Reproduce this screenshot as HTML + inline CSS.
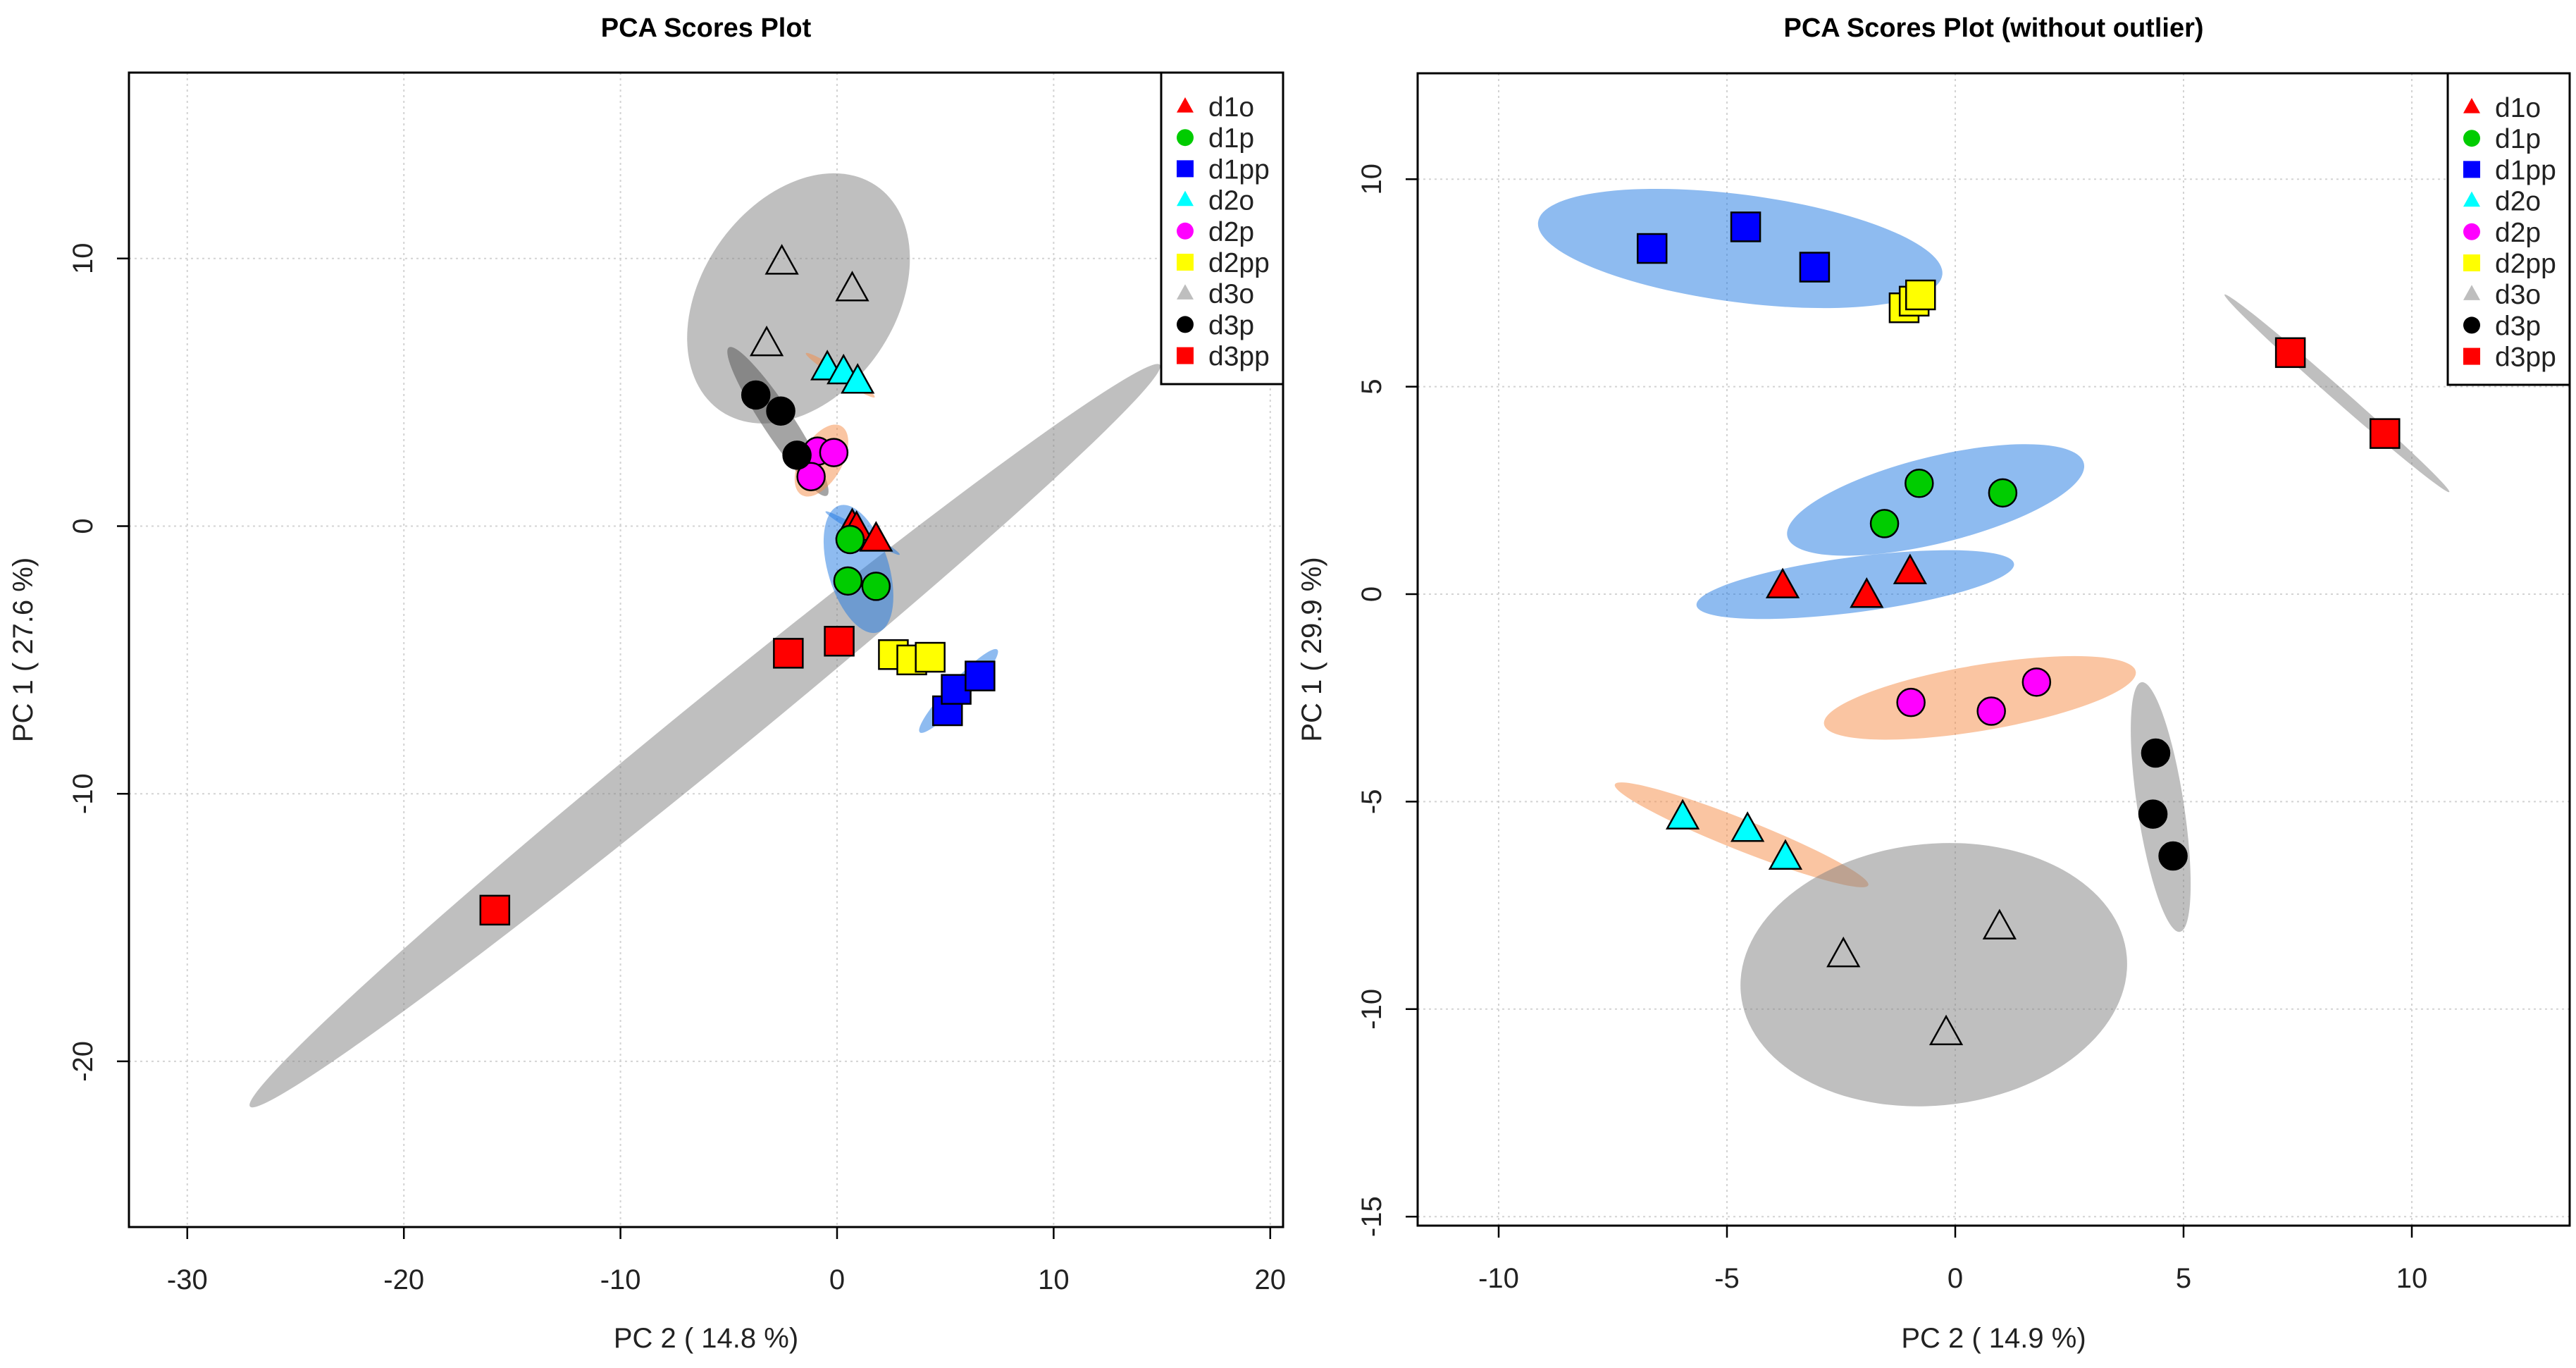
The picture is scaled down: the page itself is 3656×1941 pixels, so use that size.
<!DOCTYPE html>
<html><head><meta charset="utf-8"><style>
html,body{margin:0;padding:0;background:#fff;}
svg{display:block;font-family:"Liberation Sans",sans-serif;}
</style></head><body>
<svg id="chart" width="3656" height="1941" viewBox="0 0 3656 1941" xmlns="http://www.w3.org/2000/svg"></svg>
<script>
const legendGroups = ['d1o','d1p','d1pp','d2o','d2p','d2pp','d3o','d3p','d3pp'];
// left panel data (PC2, PC1)
const leftX = {d1o:[0.7,0.9,1.8], d1p:[0.6,0.5,1.8], d1pp:[5.1,5.5,6.6], d2o:[-0.45,0.3,0.95], d2p:[-0.9,-0.15,-1.2], d2pp:[2.6,3.45,4.3], d3o:[-2.55,0.7,-3.25], d3p:[-3.75,-2.6,-1.85], d3pp:[-15.8,-2.25,0.1]};
const leftY = {d1o:[0,-0.1,-0.5], d1p:[-0.5,-2.05,-2.25], d1pp:[-6.9,-6.1,-5.6], d2o:[5.9,5.75,5.4], d2p:[2.8,2.75,1.85], d2pp:[-4.8,-5,-4.9], d3o:[9.85,8.85,6.8], d3p:[4.9,4.3,2.65], d3pp:[-14.35,-4.75,-4.3]};
// right panel data
const rightX = {d1o:[-3.78,-1.94,-0.99], d1p:[-1.55,-0.79,1.04], d1pp:[-6.64,-4.59,-3.08], d2o:[-5.97,-4.55,-3.72], d2p:[-0.97,0.79,1.78], d2pp:[-1.12,-0.9,-0.76], d3o:[-2.45,0.97,-0.2], d3p:[4.39,4.33,4.77], d3pp:[7.34,9.41]};
const rightY = {d1o:[0.19,-0.04,0.53], d1p:[1.7,2.67,2.44], d1pp:[8.33,8.85,7.88], d2o:[-5.38,-5.68,-6.35], d2p:[-2.61,-2.82,-2.12], d2pp:[6.9,7.06,7.21], d3o:[-8.7,-8.03,-10.58], d3p:[-3.83,-5.3,-6.31], d3pp:[5.82,3.87]};
// ellipse centres in data units
const leftEllCx = [-6.1,-1.78,-2.73,0.15,-0.72,1.18,0.99,5.61];
const leftEllCy = [-7.83,8.51,3.91,5.64,2.45,-0.26,-1.6,-6.16];
const rightEllCx = [-4.71,8.36,-0.43,-2.19,0.54,4.5,-4.68,-0.47];
const rightEllCy = [8.33,4.84,2.27,0.23,-2.5,-5.13,-5.8,-9.17];
const leftXTicks = [-30,-20,-10,0,10,20];
const leftYTicks = [10,0,-10,-20];
const rightXTicks = [-10,-5,0,5,10];
const rightYTicks = [10,5,0,-5,-10,-15];

const styles = {
 d1o:{shape:'tri',fill:'#ff0000'}, d1p:{shape:'circ',fill:'#00cc00'}, d1pp:{shape:'sq',fill:'#0000ff'},
 d2o:{shape:'tri',fill:'#00ffff'}, d2p:{shape:'circ',fill:'#ff00ff'}, d2pp:{shape:'sq',fill:'#ffff00'},
 d3o:{shape:'tri',fill:'none',legend:'#bebebe'}, d3p:{shape:'circ',fill:'#000000'}, d3pp:{shape:'sq',fill:'#ff0000'}
};
const G='rgba(128,128,128,0.5)', B='rgba(30,120,225,0.5)', O='rgba(245,140,70,0.5)', DG='rgba(90,90,90,0.55)';
const leftEllStyle = [[G,814,44,-37.5],[G,187,134,-50],[DG,121,21,54.8],[O,57,6,31],[O,54,29,122.7],[B,60,5,28.6],[B,89,43,71.7],[B,78,14,-45]];
const rightEllStyle = [[B,289,72,7],[G,207,9,39.6],[B,216,58,-13],[B,227,37,-7],[O,224,44,-9],[G,169,33,80.7],[O,192,21,20.5],[G,275,175,-5]];
const YSTRETCH = 1.0617;

const svg=document.getElementById('chart');
const NS='http://www.w3.org/2000/svg';
function mk(tag,attrs,parent){const e=document.createElementNS(NS,tag);for(const k in attrs)e.setAttribute(k,attrs[k]);(parent||svg).appendChild(e);return e;}

function marker(g,shape,cx,cy,fill,size,stroke){
  let e;
  if(shape==='sq'){e=mk('rect',{x:cx-size/2,y:cy-size/2,width:size,height:size,fill:fill,stroke:stroke,'stroke-width':2.5},g);}
  else if(shape==='circ'){e=mk('circle',{cx:cx,cy:cy,r:size/2,fill:fill,stroke:stroke,'stroke-width':2.5},g);}
  else{const h=size*0.9;e=mk('polygon',{points:`${cx},${cy-h*0.6} ${cx-size/2},${cy+h*0.4} ${cx+size/2},${cy+h*0.4}`,fill:fill,stroke:stroke,'stroke-width':2.5},g);}
  return e;
}

function panel(p){
  const g=mk('g',{});
  
  
  const sx=v=>p.x0+v*p.kx, sy=v=>p.y0-v*p.ky;
  p.xt.forEach(t=>{const l=mk('line',{x1:sx(t),x2:sx(t),y1:p.top,y2:p.bot,stroke:'#d3d3d3','stroke-width':2,'stroke-dasharray':'3,5'},g);
    });
  p.yt.forEach(t=>{const l=mk('line',{x1:p.left,x2:p.right,y1:sy(t),y2:sy(t),stroke:'#d3d3d3','stroke-width':2,'stroke-dasharray':'3,5'},g);
    });
  p.ecx.forEach((cx,i)=>{const s=p.es[i];const x=sx(cx),y=sy(p.ecy[i]);
    const e=mk('ellipse',{cx:0,cy:0,rx:s[1],ry:s[2],fill:s[0],transform:`translate(${x} ${y}) scale(1 ${YSTRETCH}) rotate(${s[3]})`},g);
    });
  legendGroups.forEach(k=>{const st=styles[k];(p.X[k]||[]).forEach((v,i)=>{
    const m=marker(g,st.shape,sx(v),sy(p.Y[k][i]),st.fill,st.shape==='sq'?41:(st.shape==='circ'?39:44),'#000');
    });});
  const r=mk('rect',{x:p.left,y:p.top,width:p.right-p.left,height:p.bot-p.top,fill:'none',stroke:'#000','stroke-width':3},g);
  
  p.xt.forEach(t=>{mk('line',{x1:sx(t),x2:sx(t),y1:p.bot,y2:p.bot+17,stroke:'#000','stroke-width':2.5},g);
    const tx=mk('text',{x:sx(t),y:p.bot+88,'font-size':40,'text-anchor':'middle',fill:'#222'},g);tx.textContent=t;
    });
  p.yt.forEach(t=>{mk('line',{x1:p.left-17,x2:p.left,y1:sy(t),y2:sy(t),stroke:'#000','stroke-width':2.5},g);
    const tx=mk('text',{x:0,y:0,'font-size':40,'text-anchor':'middle',fill:'#222',transform:`translate(${p.left-52} ${sy(t)}) rotate(-90)`},g);tx.textContent=t;
    });
  const ti=mk('text',{x:(p.left+p.right)/2,y:52,'font-size':38,'font-weight':'bold','text-anchor':'middle',fill:'#000'},g);ti.textContent=p.title;
  
  const xl=mk('text',{x:(p.left+p.right)/2,y:1912,'font-size':40,'text-anchor':'middle',fill:'#222'},g);xl.textContent=p.xlab;
  
  const yl=mk('text',{x:0,y:0,'font-size':40,'text-anchor':'middle',fill:'#222',transform:`translate(${p.left-137} ${(p.top+p.bot)/2}) rotate(-90)`},g);yl.textContent=p.ylab;
  
  const lg=mk('g',{},g);
  mk('rect',{x:p.right-173,y:p.top,width:173,height:442,fill:'#fff',stroke:'#000','stroke-width':3},lg);
  legendGroups.forEach((k,i)=>{const st=styles[k];const cy=p.top+48+i*44.2;
    const m=marker(lg,st.shape,p.right-139,cy,st.legend||st.fill,24,'none');
    
    const t=mk('text',{x:p.right-106,y:cy+14,'font-size':39,fill:'#222'},lg);t.textContent=k;
    });
}

panel({name:'left-panel',title:'PCA Scores Plot',xlab:'PC 2 ( 14.8 %)',ylab:'PC 1 ( 27.6 %)',
 left:183,right:1821,top:103,bot:1741,x0:1188,kx:30.74,y0:746.5,ky:37.97,xt:leftXTicks,yt:leftYTicks,
 X:leftX,Y:leftY,ecx:leftEllCx,ecy:leftEllCy,es:leftEllStyle});
panel({name:'right-panel',title:'PCA Scores Plot (without outlier)',xlab:'PC 2 ( 14.9 %)',ylab:'PC 1 ( 29.9 %)',
 left:2012,right:3647,top:104,bot:1739,x0:2775,kx:64.8,y0:843,ky:58.88,xt:rightXTicks,yt:rightYTicks,
 X:rightX,Y:rightY,ecx:rightEllCx,ecy:rightEllCy,es:rightEllStyle});
</script>
</body></html>
